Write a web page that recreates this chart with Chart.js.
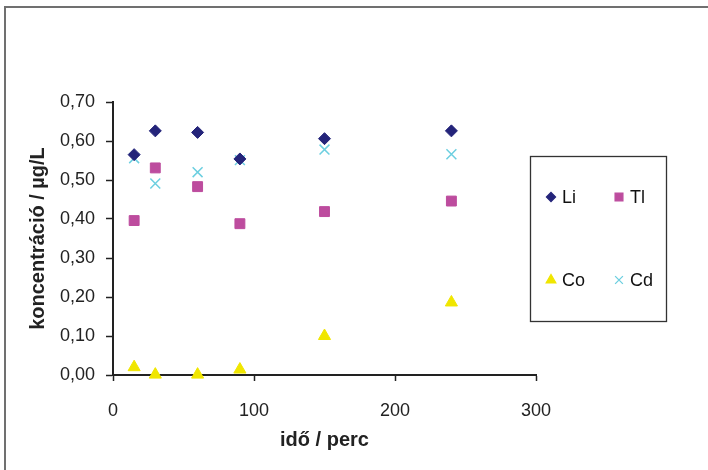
<!DOCTYPE html>
<html>
<head>
<meta charset="utf-8">
<script src="https://cdn.jsdelivr.net/npm/chart.js@4.4.1/dist/chart.umd.min.js"></script>
<style>
  html, body { margin: 0; padding: 0; background: #fff; }
  #wrap { width: 708px; height: 470px; position: relative; }
</style>
</head>
<body>
<div id="wrap"><canvas id="chart"></canvas></div>
<script>
// sampling times (perc)
const times = [15, 30, 60, 90, 150, 240];

// concentrations (µg/L)
const li = [0.565, 0.626, 0.622, 0.554, 0.606, 0.626];
const tl = [0.396, 0.531, 0.483, 0.388, 0.419, 0.446];
const co = [0.020, 0.001, 0.001, 0.014, 0.100, 0.186];
const cd = [0.556, 0.491, 0.520, 0.551, 0.578, 0.566];

const yTicks = [0, 0.1, 0.2, 0.3, 0.4, 0.5, 0.6, 0.7];
const xTicks = [0, 100, 200, 300];

const toPoints = vals => vals.map((v, i) => ({ x: times[i], y: v }));

const series = [
    { label: 'Li', data: li, color: '#24247a', style: 'rectRot', radius: 6 },
    { label: 'Tl', data: tl, color: '#bd4c9e', style: 'rect', radius: 7 },
    { label: 'Co', data: co, color: '#f0e600', style: 'triangle', radius: 7 },
    { label: 'Cd', data: cd, color: '#6ccfe0', style: 'crossRot', radius: 7 },
];

const axisColor = '#222';
const font = { family: '"Liberation Sans", Arial, sans-serif', size: 18 };
const titleFont = { family: '"Liberation Sans", Arial, sans-serif', size: 20, weight: 'bold' };

// frame around the figure and the boxed legend
const decor = {
    id: 'decor',
    afterDraw(chart) {
        const ctx = chart.ctx;
        ctx.save();
        ctx.strokeStyle = '#707070';
        ctx.lineWidth = 2;
        ctx.beginPath();
        ctx.moveTo(5, 470);
        ctx.lineTo(5, 7);
        ctx.lineTo(708, 7);
        ctx.stroke();

        ctx.strokeStyle = '#333';
        ctx.lineWidth = 1.3;
        ctx.strokeRect(530.5, 156.5, 136, 165);

        const slots = [[551, 197], [619, 197], [551, 280], [619, 280]];
        ctx.font = '18px "Liberation Sans", Arial, sans-serif';
        ctx.textBaseline = 'middle';
        series.forEach((s, i) => {
            const [x, y] = slots[i];
            ctx.fillStyle = s.color;
            ctx.strokeStyle = s.color;
            Chart.helpers.drawPoint(ctx, {
                pointStyle: s.style,
                radius: s.radius - 1.5,
                rotation: 0,
                borderWidth: s.style === 'crossRot' ? 1.3 : 1,
            }, x, y);
            ctx.fillStyle = '#111';
            ctx.fillText(s.label, x + 11, y + 1);
        });
        ctx.restore();
    }
};

new Chart(document.getElementById('chart'), {
    type: 'scatter',
    data: {
        datasets: series.map(s => ({
            label: s.label,
            data: toPoints(s.data),
            pointStyle: s.style,
            pointRadius: s.radius,
            pointHoverRadius: s.radius,
            backgroundColor: s.color,
            borderColor: s.color,
            borderWidth: s.style === 'crossRot' ? 1.5 : 1,
            clip: false,
        })),
    },
    options: {
        responsive: true,
        maintainAspectRatio: false,
        animation: false,
        layout: {
            padding: { top: 102, right: 172, left: 0, bottom: 0 },
        },
        plugins: {
            legend: { display: false },
            tooltip: { enabled: false },
        },
        scales: {
            x: {
                type: 'linear',
                min: 0,
                max: 300,
                afterBuildTicks: scale => { scale.ticks = xTicks.map(v => ({ value: v })); },
                afterFit: scale => { scale.height = 95; },
                grid: {
                    drawOnChartArea: false,
                    tickLength: 6,
                    tickColor: axisColor,
                    tickWidth: 1.5,
                },
                border: { color: axisColor, width: 2 },
                ticks: {
                    color: '#222',
                    font: font,
                    padding: 19,
                    maxRotation: 0,
                },
                title: {
                    display: true,
                    text: 'idő / perc',
                    color: '#222',
                    font: titleFont,
                    padding: { top: 0, bottom: 18 },
                },
            },
            y: {
                type: 'linear',
                min: 0,
                max: 0.7,
                afterBuildTicks: scale => { scale.ticks = yTicks.map(v => ({ value: v })); },
                afterFit: scale => { scale.width = 113; },
                grid: {
                    drawOnChartArea: false,
                    tickLength: 7,
                    tickColor: axisColor,
                    tickWidth: 1.5,
                },
                border: { color: axisColor, width: 2 },
                ticks: {
                    color: '#222',
                    font: font,
                    padding: 11,
                    callback: v => v.toFixed(2).replace('.', ','),
                },
                title: {
                    display: true,
                    text: 'koncentráció / µg/L',
                    color: '#222',
                    font: titleFont,
                    padding: { top: 26, bottom: 0 },
                },
            },
        },
    },
    plugins: [decor],
});
</script>
</body>
</html>
